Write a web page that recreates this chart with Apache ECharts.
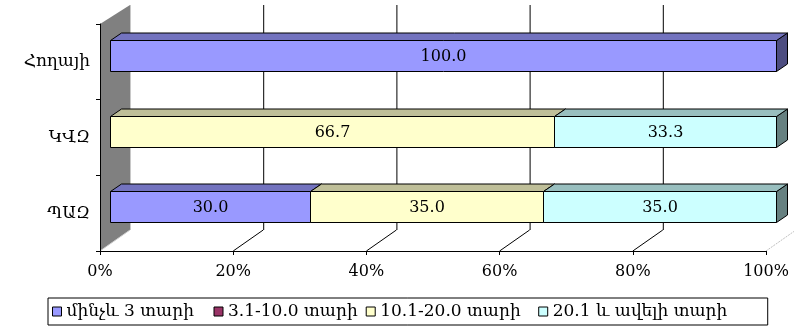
<!DOCTYPE html>
<html>
<head>
<meta charset="utf-8">
<script src="https://cdn.jsdelivr.net/npm/echarts@6/dist/echarts.min.js"></script>
<style>
  html, body { margin: 0; padding: 0; background: #ffffff; }
  #chart { width: 794px; height: 327px; }
</style>
</head>
<body>
<div id="chart"></div>
<script>
// Share of units by age group, per category (percent)
const categories = ['ՊԱԶ', 'ԿՎԶ', 'Հողայի'];
const seriesNames = ['մինչև 3 տարի', '3.1-10.0 տարի', '10.1-20.0 տարի', '20.1 և ավելի տարի'];
const upTo3 = [30.0, 0, 100.0];
const from3to10 = [0, 0, 0];
const from10to20 = [35.0, 66.7, 0];
const over20 = [35.0, 33.3, 0];
const xTicks = [0, 20, 40, 60, 80, 100];

const seriesValues = [upTo3, from3to10, from10to20, over20];
const frontColors = ['#9999FF', '#993366', '#FFFFCC', '#CCFFFF'];
const topColors = ['#7373BF', '#732640', '#BFBF99', '#99BFBF'];
const sideColors = ['#4D4D80', '#4D1A33', '#808066', '#668080'];
// room reserved for each legend caption
const legendTextWidths = [139, 120, 150, 210];

const FONT = "'DejaVu Serif', 'Liberation Serif', serif";
const FONT_SIZE = 16;

// oblique depth of the plot box and of the bars
const WALL_DX = 30, WALL_DY_TOP = -19, WALL_DY_BOT = -21;
const BAR_DX = 10, BAR_DY = -6.3;
const DEPTH_DX = 11, DEPTH_DY = -7.5;
const BAR_RATIO = 0.408;

// running totals so each segment starts where the previous one ended
const totals = categories.map(() => 0);
const stacked = seriesValues.map(vals => vals.map((v, i) => {
  const s = totals[i];
  totals[i] += v;
  return [s, s + v, i, v];
}));

function renderFrame(params, api) {
  const cs = params.coordSys;
  const v = api.value(0);
  const x = api.coord([v, 0])[0];
  const top = cs.y, bottom = cs.y + cs.height;
  const children = [];
  if (v === xTicks[0]) {
    children.push({
      type: 'polygon',
      shape: { points: [[x, top], [x + WALL_DX, top + WALL_DY_TOP], [x + WALL_DX, bottom + WALL_DY_BOT], [x, bottom]] },
      style: { fill: '#808080', stroke: null }
    });
    children.push({
      type: 'line',
      shape: { x1: x + WALL_DX + 0.5, y1: top + WALL_DY_TOP, x2: x + WALL_DX + 0.5, y2: bottom + WALL_DY_BOT },
      style: { stroke: '#c8c8c8', lineWidth: 1 }
    });
    children.push({
      type: 'line',
      shape: { x1: x, y1: bottom, x2: x + WALL_DX, y2: bottom + WALL_DY_BOT },
      style: { stroke: '#d0d0d0', lineWidth: 1 }
    });
  } else {
    const last = v === xTicks[xTicks.length - 1];
    children.push({
      type: 'line',
      shape: { x1: x + WALL_DX + 0.5, y1: top + WALL_DY_TOP, x2: x + WALL_DX + 0.5, y2: bottom + WALL_DY_BOT },
      style: { stroke: '#000', lineWidth: 1 }
    });
    children.push({
      type: 'line',
      shape: { x1: x, y1: bottom, x2: x + WALL_DX, y2: bottom + WALL_DY_BOT },
      style: last ? { stroke: '#c0c0c0', lineWidth: 1, lineDash: [2, 1] } : { stroke: '#000', lineWidth: 1 }
    });
  }
  return { type: 'group', children };
}

function makeBarRenderer(k) {
  return function (params, api) {
    const start = api.value(0), end = api.value(1), cat = api.value(2), val = api.value(3);
    if (!(end - start > 0)) return null;
    const a = api.coord([start, cat]);
    const b = api.coord([end, cat]);
    const band = api.size([0, 1])[1];
    const h = band * BAR_RATIO;
    const x0 = Math.round(a[0] + BAR_DX) + 0.5, x1 = Math.round(b[0] + BAR_DX) + 0.5;
    const yc = a[1] + BAR_DY;
    const t = Math.round(yc - h / 2) + 0.5, btm = Math.round(yc + h / 2) + 0.5;
    const edge = { stroke: '#000', lineWidth: 1 };
    return {
      type: 'group',
      children: [
        {
          type: 'polygon',
          shape: { points: [[x1, t], [x1 + DEPTH_DX, t + DEPTH_DY], [x1 + DEPTH_DX, btm + DEPTH_DY], [x1, btm]] },
          style: Object.assign({ fill: sideColors[k] }, edge)
        },
        {
          type: 'polygon',
          shape: { points: [[x0, t], [x0 + DEPTH_DX, t + DEPTH_DY], [x1 + DEPTH_DX, t + DEPTH_DY], [x1, t]] },
          style: Object.assign({ fill: topColors[k] }, edge)
        },
        {
          type: 'rect',
          shape: { x: x0, y: t, width: x1 - x0, height: btm - t },
          style: Object.assign({ fill: frontColors[k] }, edge)
        },
        {
          type: 'text',
          style: {
            text: val.toFixed(1),
            x: (x0 + x1) / 2, y: (t + btm) / 2 + 1,
            align: 'center', verticalAlign: 'middle',
            font: FONT_SIZE + 'px ' + FONT, fill: '#000'
          }
        }
      ]
    };
  };
}

const chart = echarts.init(document.getElementById('chart'), null, { renderer: 'canvas' });

const series = [{
  name: 'frame',
  type: 'custom',
  silent: true,
  renderItem: renderFrame,
  encode: { x: 0, y: 1 },
  data: xTicks.map(v => [v, 0]),
  z: 1
}].concat(seriesNames.map((name, k) => ({
  name,
  type: 'custom',
  renderItem: makeBarRenderer(k),
  itemStyle: { color: frontColors[k] },
  encode: { x: [0, 1], y: 2 },
  data: stacked[k],
  z: 2
})));

chart.setOption({
  animation: false,
  backgroundColor: '#ffffff',
  textStyle: { fontFamily: FONT },
  grid: { left: 100, right: 28, top: 24, bottom: 76, containLabel: false },
  xAxis: {
    type: 'value',
    min: xTicks[0],
    max: xTicks[xTicks.length - 1],
    interval: 20,
    z: 5,
    axisLine: { show: true, lineStyle: { color: '#000', width: 1 } },
    axisTick: { show: true, length: 4, lineStyle: { color: '#000' } },
    splitLine: { show: false },
    axisLabel: { formatter: '{value}%', color: '#000', fontSize: FONT_SIZE, fontFamily: FONT, margin: 13 }
  },
  yAxis: {
    type: 'category',
    data: categories,
    z: 5,
    axisLine: { show: true, lineStyle: { color: '#000', width: 1 } },
    axisTick: { show: true, length: 4, lineStyle: { color: '#000' } },
    splitLine: { show: false },
    axisLabel: { color: '#000', fontSize: 17, fontFamily: FONT, margin: 10 }
  },
  legend: {
    data: seriesNames.map((name, k) => ({
      name,
      textStyle: { width: legendTextWidths[k] }
    })),
    left: 48,
    top: 298,
    orient: 'horizontal',
    icon: 'rect',
    itemWidth: 9,
    itemHeight: 9,
    itemGap: 8,
    padding: [4, 5, 4, 4],
    borderColor: '#000',
    borderWidth: 1,
    borderRadius: 0,
    itemStyle: { borderColor: '#000', borderWidth: 1 },
    textStyle: { color: '#000', fontSize: 17, fontFamily: FONT, lineHeight: 19 }
  },
  series
});
</script>
</body>
</html>
